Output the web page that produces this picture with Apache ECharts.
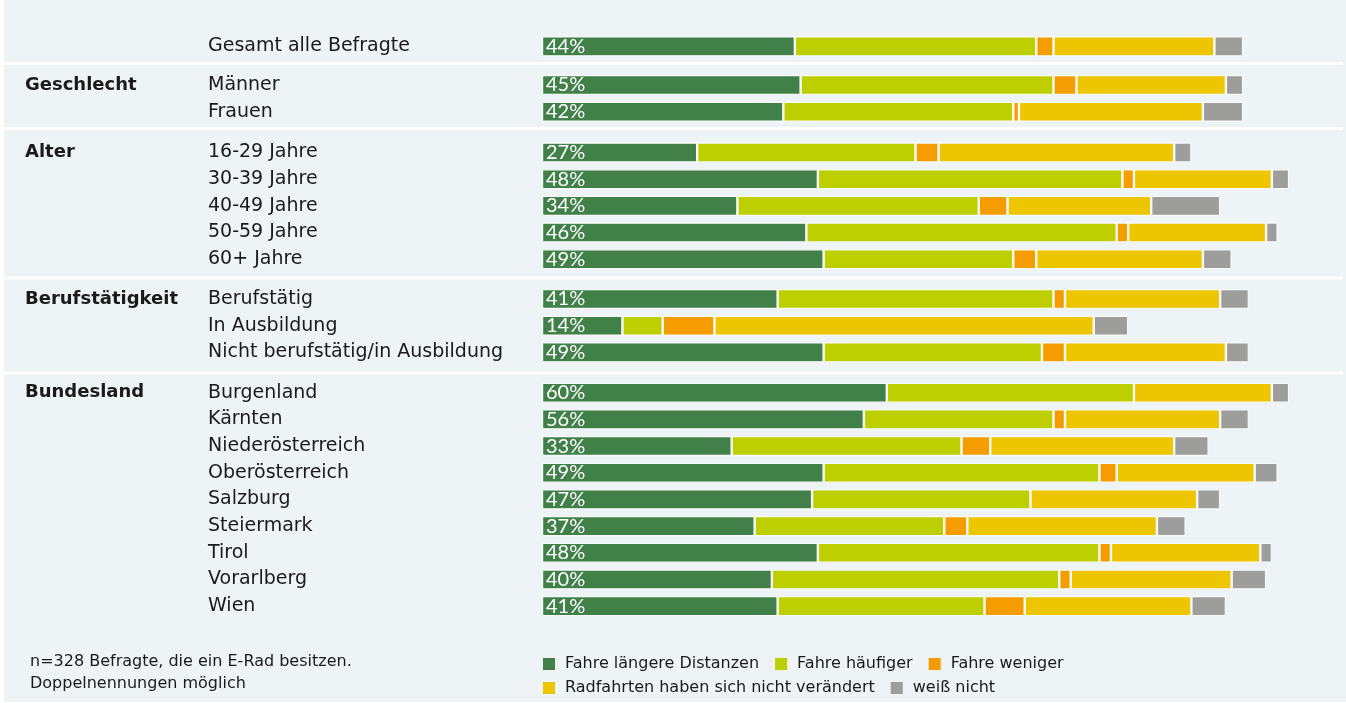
<!DOCTYPE html>
<html>
<head>
<meta charset="utf-8">
<script src="https://cdn.jsdelivr.net/npm/echarts/dist/echarts.min.js"></script>
<style>
  html, body { margin: 0; padding: 0; background: #fff; }
  #chart { width: 1346px; height: 703px; }
</style>
</head>
<body>
<div id="chart"></div>
<script>
// Gruppen und Kategorien (von oben nach unten)
const groupNames = ['', 'Geschlecht', 'Alter', 'Berufstätigkeit', 'Bundesland']
const groupCategories = [
  ['Gesamt alle Befragte'],
  ['Männer', 'Frauen'],
  ['16-29 Jahre', '30-39 Jahre', '40-49 Jahre', '50-59 Jahre', '60+ Jahre'],
  ['Berufstätig', 'In Ausbildung', 'Nicht berufstätig/in Ausbildung'],
  ['Burgenland', 'Kärnten', 'Niederösterreich', 'Oberösterreich', 'Salzburg', 'Steiermark', 'Tirol', 'Vorarlberg', 'Wien'],
]

const seriesNames = ['Fahre längere Distanzen', 'Fahre häufiger', 'Fahre weniger', 'Radfahrten haben sich nicht verändert', 'weiß nicht']

// Werte in %, gleiche Reihenfolge wie die Kategorien
const laengereDistanzen = [44, 45, 42, 27, 48, 34, 46, 49, 41, 14, 49, 60, 56, 33, 49, 47, 37, 48, 40, 41]
const haeufiger = [42, 44, 40, 38, 53, 42, 54, 33, 48, 7, 38, 43, 33, 40, 48, 38, 33, 49, 50, 36]
const weniger = [3, 4, 1, 4, 2, 5, 2, 4, 2, 9, 4, 0, 2, 5, 3, 0, 4, 2, 2, 7]
const unveraendert = [28, 26, 32, 41, 24, 25, 24, 29, 27, 66, 28, 24, 27, 32, 24, 29, 33, 26, 28, 29]
const weissNicht = [5, 3, 7, 3, 3, 12, 2, 5, 5, 6, 4, 3, 5, 6, 4, 4, 5, 2, 6, 6]

const seriesValues = [laengereDistanzen, haeufiger, weniger, unveraendert, weissNicht]
const colors = ['#418049', '#bdcf00', '#f59c00', '#edc500', '#9d9e9c']

const footnote = ['n=328 Befragte, die ein E-Rad besitzen.', 'Doppelnennungen möglich']

// Layout
const FONT = '"DejaVu Sans", "Open Sans", sans-serif'
const TEXT = '#1a1a1a'
const BG = '#eef3f6'
const ROW_H = 26.67
const GRID_LEFT = 542
const X_MAX = 140
const PX_PER_PCT = 5.747
const gridTops = [33, 71.7, 139.2, 285.7, 379.4]
const separators = [63.5, 128.5, 278, 373]

const chart = echarts.init(document.getElementById('chart'))

const grid = []
const xAxis = []
const yAxis = []
const series = []
let offset = 0

groupCategories.forEach((cats, g) => {
  grid.push({
    left: GRID_LEFT,
    top: gridTops[g],
    width: X_MAX * PX_PER_PCT,
    height: cats.length * ROW_H,
    outerBoundsMode: 'none',
  })
  xAxis.push({
    gridIndex: g,
    type: 'value',
    min: 0,
    max: X_MAX,
    show: false,
  })
  yAxis.push({
    gridIndex: g,
    type: 'category',
    inverse: true,
    data: cats,
    axisLine: { show: false },
    axisTick: { show: false },
    splitLine: { show: false },
    axisLabel: {
      align: 'left',
      margin: GRID_LEFT - 208,
      fontFamily: FONT,
      fontSize: 19,
      color: TEXT,
    },
  })
  seriesValues.forEach((vals, s) => {
    series.push({
      name: seriesNames[s],
      type: 'bar',
      stack: 'g' + g,
      xAxisIndex: g,
      yAxisIndex: g,
      barWidth: 20,
      silent: true,
      animation: false,
      itemStyle: {
        color: colors[s],
        borderColor: '#f8faf9',
        borderWidth: 1.2,
      },
      label: s === 0
        ? {
            show: true,
            position: 'insideLeft',
            distance: 4,
            formatter: '{c}%',
            color: '#fff',
            fontFamily: 'Lato, "Open Sans", sans-serif',
            fontSize: 20,
          }
        : { show: false },
      data: vals.slice(offset, offset + cats.length),
    })
  })
  offset += cats.length
})

const graphic = [
  {
    type: 'rect',
    z: -10,
    silent: true,
    shape: { x: 4, y: 0, width: 1342, height: 702 },
    style: { fill: BG },
  },
]
separators.forEach((y) => {
  graphic.push({
    type: 'rect',
    z: -5,
    silent: true,
    shape: { x: 4, y: y - 1.5, width: 1339, height: 3 },
    style: { fill: '#fff' },
  })
})
groupNames.forEach((name, g) => {
  if (!name)
    return
  graphic.push({
    type: 'text',
    x: 25,
    y: gridTops[g] + ROW_H / 2,
    style: {
      text: name,
      verticalAlign: 'middle',
      fontFamily: FONT,
      fontWeight: 'bold',
      fontSize: 18,
      fill: TEXT,
    },
  })
})
footnote.forEach((t, i) => {
  graphic.push({
    type: 'text',
    x: 30,
    y: 662 + i * 22,
    style: {
      text: t,
      verticalAlign: 'middle',
      fontFamily: FONT,
      fontSize: 16,
      fill: TEXT,
    },
  })
})

const legendBase = {
  left: GRID_LEFT - 4,
  itemWidth: 12,
  itemHeight: 12,
  itemGap: 16,
  icon: 'rect',
  selectedMode: false,
  itemStyle: { borderWidth: 0 },
  textStyle: { fontFamily: FONT, fontSize: 16, color: TEXT, padding: [0, 0, 0, 5] },
}

chart.setOption({
  animation: false,
  color: colors,
  grid,
  xAxis,
  yAxis,
  series,
  graphic,
  legend: [
    Object.assign({}, legendBase, { top: 651, data: seriesNames.slice(0, 3) }),
    Object.assign({}, legendBase, { top: 675, data: seriesNames.slice(3) }),
  ],
})
</script>
</body>
</html>
